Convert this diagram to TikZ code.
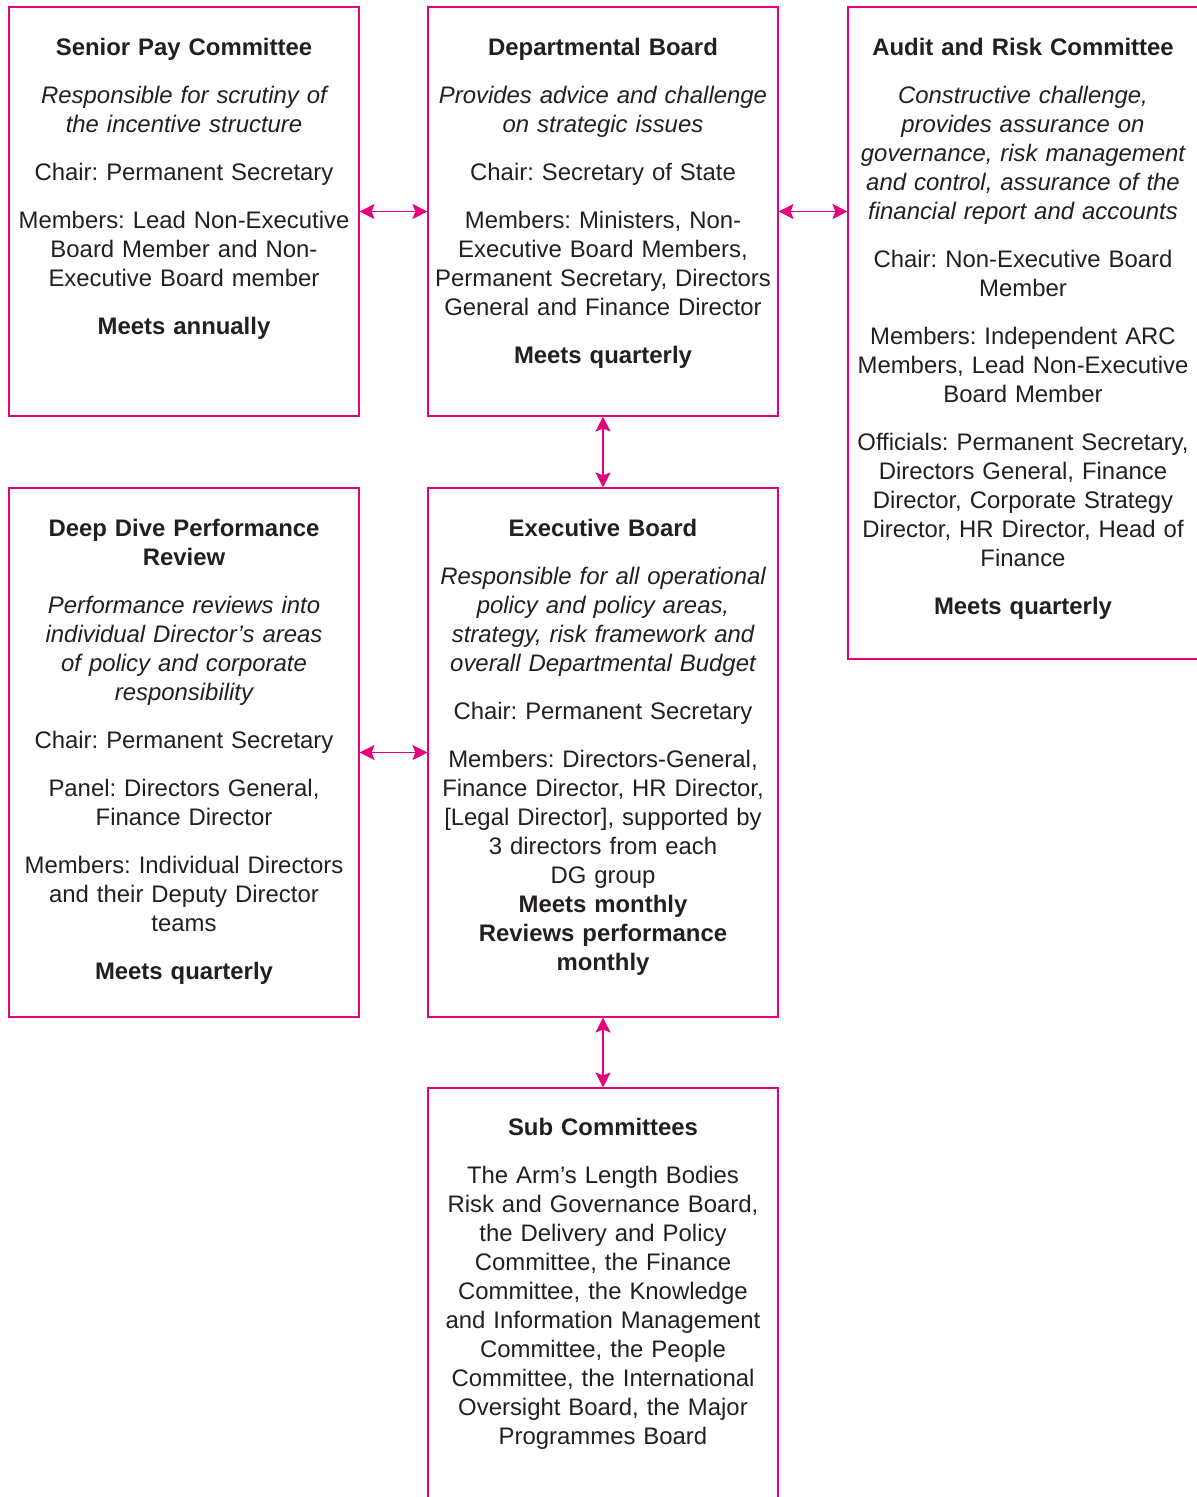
\documentclass[tikz,border=0pt]{standalone}
\usepackage{fontspec}
\setmainfont{Liberation Sans}
\usetikzlibrary{arrows.meta}
\definecolor{pinkline}{HTML}{E5007D}
\definecolor{txt}{HTML}{231F20}
\newcommand{\hd}[1]{{\bfseries #1}}
\newcommand{\ital}[1]{{\itshape #1}}
\begin{document}
\frenchspacing
\begin{tikzpicture}[x=1pt,y=-1pt,
 box/.style={draw=pinkline, line width=1.1pt, minimum width=350pt, inner sep=0pt, rectangle},
 label/.style={anchor=north, inner sep=0pt, text width=440pt, align=center, text=txt, font=\fontsize{23.9}{29}\selectfont\frenchspacing},
 link/.style={draw=pinkline, line width=1.1pt, {Stealth[length=15pt,width=15pt,inset=3pt]}-{Stealth[length=15pt,width=15pt,inset=3pt]}}]
\useasboundingbox (0,0) rectangle (1197,1497);
% boxes
\node[box, minimum height=409pt] (spc) at (184,211.5) {};
\node[box, minimum height=409pt] (db) at (603,211.5) {};
\node[box, minimum width=362pt, minimum height=652pt] (arc) at (1029,333) {};
\node[box, minimum height=529pt] (dd) at (184,752.5) {};
\node[box, minimum height=529pt] (eb) at (603,752.5) {};
\node[box, minimum height=430pt] (sub) at (603,1303) {};
% texts
\node[label] (spct) at (184,35.2) {\strut\hd{Senior Pay Committee}\\[19pt]
\ital{Responsible for scrutiny of}\\ \ital{the incentive structure}\\[19pt]
Chair: Permanent Secretary\\[19pt]
Members: Lead Non-Executive\\ Board Member and Non-\\ Executive Board member\\[19pt]
\hd{Meets annually}};
\node[label] (dbt) at (603,35.2) {\strut\hd{Departmental Board}\\[19pt]
\ital{Provides advice and challenge}\\ \ital{on strategic issues}\\[19pt]
Chair: Secretary of State\\[19pt]
Members: Ministers, Non-\\ Executive Board Members,\\ Permanent Secretary, Directors\\ General and Finance Director\\[19pt]
\hd{Meets quarterly}};
\node[label] (arct) at (1023,35.2) {\strut\hd{Audit and Risk Committee}\\[19pt]
\ital{Constructive challenge,}\\ \ital{provides assurance on}\\ \ital{governance, risk management}\\ \ital{and control, assurance of the}\\ \ital{financial report and accounts}\\[19pt]
Chair: Non-Executive Board\\ Member\\[19pt]
Members: Independent ARC\\ Members, Lead Non-Executive\\ Board Member\\[19pt]
Officials: Permanent Secretary,\\ Directors General, Finance\\ Director, Corporate Strategy\\ Director, HR Director, Head of\\ Finance\\[19pt]
\hd{Meets quarterly}};
\node[label] (ddt) at (184,516.2) {\strut\hd{Deep Dive Performance}\\ \hd{Review}\\[19pt]
\ital{Performance reviews into}\\ \ital{individual Director’s areas}\\ \ital{of policy and corporate}\\ \ital{responsibility}\\[19pt]
Chair: Permanent Secretary\\[19pt]
Panel: Directors General,\\ Finance Director\\[19pt]
Members: Individual Directors\\ and their Deputy Director\\ teams\\[19pt]
\hd{Meets quarterly}};
\node[label] (ebt) at (603,516.2) {\strut\hd{Executive Board}\\[19pt]
\ital{Responsible for all operational}\\ \ital{policy and policy areas,}\\ \ital{strategy, risk framework and}\\ \ital{overall Departmental Budget}\\[19pt]
Chair: Permanent Secretary\\[19pt]
Members: Directors-General,\\ Finance Director, HR Director,\\ {[}Legal Director], supported by\\ 3 directors from each\\ DG group\\
\hd{Meets monthly}\\ \hd{Reviews performance}\\ \hd{monthly}};
\node[label] (subt) at (603,1115.2) {\strut\hd{Sub Committees}\\[19pt]
The Arm’s Length Bodies\\ Risk and Governance Board,\\ the Delivery and Policy\\ Committee, the Finance\\ Committee, the Knowledge\\ and Information Management\\ Committee, the People\\ Committee, the International\\ Oversight Board, the Major\\ Programmes Board};
% connectors
\draw[link] (spc.east) -- (db.west);
\draw[link] (db.east) -- (db.east -| arc.west);
\draw[link] (db.south) -- (eb.north);
\draw[link] (dd.east) -- (eb.west);
\draw[link] (eb.south) -- (sub.north);
\end{tikzpicture}
\end{document}
